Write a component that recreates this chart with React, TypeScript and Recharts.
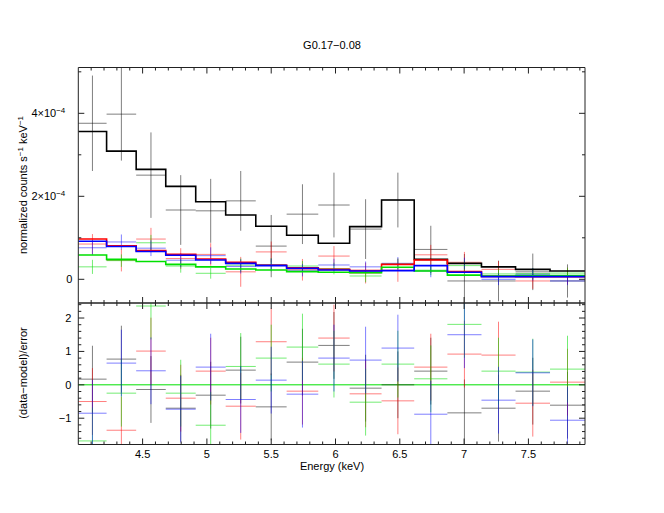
import React from "react";
import { ComposedChart, Line, Scatter, ErrorBar, XAxis, YAxis, ReferenceLine } from "recharts";

// energy bin edges (keV), 16 channels
const binEdges = [4.0, 4.22, 4.45, 4.68, 4.913, 5.146, 5.38, 5.62, 5.866, 6.11, 6.358, 6.612, 6.87, 7.135, 7.4, 7.668, 7.94];

// normalized counts, in units of 1e-4 counts s^-1 keV^-1
const blackCounts = [3.76, 3.98, 2.51, 1.67, 1.65, 1.89, 0.8, 1.57, 1.79, 1.21, 1.91, 0.72, -0.04, -0.04, 0.18, -0.04];
const blackErr = [1.15, 1.12, 1.03, 0.84, 0.77, 0.72, 0.75, 0.72, 0.78, 0.72, 0.66, 0.57, 0.65, 0.49, 0.44, 0.4];
const blackModel = [3.56, 3.09, 2.65, 2.24, 1.87, 1.55, 1.28, 1.06, 0.87, 1.27, 1.91, 0.48, 0.385, 0.3, 0.24, 0.2];

const redCounts = [0.85, 0.46, 0.97, 0.5, 0.6, 0.18, 0.66, 0.23, 0.56, 0.15, 0.22, 0.59, 0.41, 0.24, -0.04, 0.08];
const redErr = [0.24, 0.27, 0.27, 0.25, 0.27, 0.36, 0.25, 0.26, 0.24, 0.25, 0.28, 0.24, 0.25, 0.2, 0.19, 0.2];
const redModel = [0.97, 0.81, 0.69, 0.6, 0.49, 0.41, 0.34, 0.28, 0.24, 0.21, 0.36, 0.465, 0.185, 0.07, 0.065, 0.065];

const greenCounts = [0.3, 0.45, 0.88, 0.32, 0.145, 0.34, 0.35, 0.32, 0.26, 0.08, 0.37, 0.22, 0.33, 0.13, 0.14, 0.15];
const greenErr = [0.17, 0.15, 0.19, 0.16, 0.13, 0.16, 0.16, 0.12, 0.14, 0.15, 0.13, 0.12, 0.13, 0.12, 0.13, 0.13];
const greenModel = [0.586, 0.48, 0.43, 0.36, 0.3, 0.25, 0.225, 0.185, 0.17, 0.16, 0.29, 0.2, 0.1, 0.08, 0.09, 0.09];

const blueCounts = [0.76, 0.9, 0.75, 0.46, 0.57, 0.31, 0.35, 0.22, 0.345, 0.3, 0.385, 0.2, 0.38, 0.0, 0.12, -0.04];
const blueErr = [0.18, 0.18, 0.19, 0.17, 0.2, 0.17, 0.15, 0.15, 0.15, 0.13, 0.15, 0.15, 0.14, 0.14, 0.15, 0.1];
const blueModel = [0.916, 0.79, 0.67, 0.58, 0.465, 0.385, 0.33, 0.265, 0.225, 0.2, 0.21, 0.33, 0.17, 0.065, 0.065, 0.065];

// (data-model)/error
const blackResid = [0.17, 0.77, -0.14, -0.7, -0.31, 0.44, -0.66, 0.68, 1.18, -0.1, 0.0, 0.41, -0.84, -0.7, -0.19, -0.61];
const redResid = [-0.5, -1.36, 1.01, -0.4, 0.41, -0.64, 1.29, -0.19, 1.4, -0.27, -0.48, 0.53, 0.92, 0.89, -0.55, 0.08];
const greenResid = [-1.68, -0.25, 2.36, -0.25, -1.21, 0.55, 0.8, 1.13, 0.62, -0.52, 0.62, 0.18, 1.81, 0.41, 0.38, 0.47];
const blueResid = [-0.85, 0.65, 0.42, -0.73, 0.53, -0.44, 0.14, -0.28, 0.8, 0.74, 1.1, -0.88, 1.5, -0.46, 0.36, -1.06];

// axis ticks
const xMajorTicks = [4.5, 5, 5.5, 6, 6.5, 7, 7.5];
const xAllTicks = Array.from({ length: 39 }, (_, i) => +(4.1 + i * 0.1).toFixed(1));
const countMajorTicks = [0, 2, 4];
const countAllTicks = [0, 1, 2, 3, 4, 5];
const residMajorTicks = [-1, 0, 1, 2];
const residAllTicks = Array.from({ length: 21 }, (_, i) => +(-1.6 + i * 0.2).toFixed(1));

const xDomain = [4.0, 7.94];
const countDomain = [-0.571, 5.104];
const residDomain = [-1.787, 2.45];

const FONT = "'Liberation Sans', Arial, Helvetica, sans-serif";

const centers = binEdges.slice(0, -1).map((e, i) => (e + binEdges[i + 1]) / 2);
const halfWidths = binEdges.slice(0, -1).map((e, i) => (binEdges[i + 1] - e) / 2);

// error bars are cut at the panel's y range, like the frame does
const crossData = (vals: number[], errs: number[], dom: number[]) =>
  vals.map((v, i) => ({
    x: centers[i],
    y: v,
    xe: halfWidths[i],
    ye: [v - Math.max(v - errs[i], dom[0]), Math.min(v + errs[i], dom[1]) - v],
  }));
const stepData = (model: number[]) =>
  binEdges.map((e, i) => ({ x: e, y: model[Math.min(i, model.length - 1)] }));

const datasets = [
  { name: "black", line: "#000000", cross: "rgba(0,0,0,0.5)", counts: blackCounts, err: blackErr, model: blackModel, resid: blackResid },
  { name: "red", line: "#ff0000", cross: "rgba(255,0,0,0.5)", counts: redCounts, err: redErr, model: redModel, resid: redResid },
  { name: "green", line: "#00e000", cross: "rgba(0,220,0,0.55)", counts: greenCounts, err: greenErr, model: greenModel, resid: greenResid },
  { name: "blue", line: "#0000ff", cross: "rgba(0,0,255,0.5)", counts: blueCounts, err: blueErr, model: blueModel, resid: blueResid },
];

type Side = "top" | "bottom" | "left" | "right";

const isMajor = (v: number, majors: number[]) => majors.some((m) => Math.abs(m - v) < 1e-6);

const xLabel = (v: number) => String(v);
const countLabel = (v: number) =>
  v === 0 ? "0" : (
    <>
      {v}×10<tspan dy={-4} fontSize={8}>−4</tspan>
    </>
  );
const countGap = (v: number) => (v === 0 ? 6 : 13);
const residLabel = (v: number) => (v < 0 ? "−" + Math.abs(v) : String(v));
const residGap = () => 7;

function renderTick(
  props: any,
  side: Side,
  majors: number[],
  fmt?: (v: number) => React.ReactNode,
  gap?: (v: number) => number
) {
  const { x, y, payload } = props;
  const v = payload.value;
  const major = isMajor(v, majors);
  const len = major ? 6 : 3;
  let x2 = x;
  let y2 = y;
  if (side === "bottom") y2 = y - len;
  if (side === "top") y2 = y + len;
  if (side === "left") x2 = x + len;
  if (side === "right") x2 = x - len;
  return (
    <g>
      <line x1={x} y1={y} x2={x2} y2={y2} stroke="#222" strokeWidth={1} />
      {major && fmt && side === "bottom" && (
        <text x={x} y={y + 13} textAnchor="middle" fontSize={11} fontFamily={FONT} fill="#000">
          {fmt(v)}
        </text>
      )}
      {major && fmt && side === "left" && (
        <text x={x - (gap ? gap(v) : 6)} y={y + 4} textAnchor="end" fontSize={11} fontFamily={FONT} fill="#000">
          {fmt(v)}
        </text>
      )}
    </g>
  );
}

const frameAxis = { stroke: "#222", strokeWidth: 1 };

const TopPanel = () => (
  <ComposedChart width={664} height={310} margin={{ top: 66.5, right: 78, bottom: 6, left: 77.3 }}>
    <XAxis
      dataKey="x"
      type="number"
      domain={xDomain}
      allowDataOverflow
      ticks={xAllTicks}
      interval={0}
      height={1}
      tickSize={0}
      tickMargin={0}
      axisLine={frameAxis}
      tickLine={false}
      tick={(p: any) => renderTick(p, "bottom", xMajorTicks)}
    />
    <XAxis
      xAxisId="t"
      dataKey="x"
      type="number"
      orientation="top"
      domain={xDomain}
      allowDataOverflow
      ticks={xAllTicks}
      interval={0}
      height={1}
      tickSize={0}
      tickMargin={0}
      axisLine={frameAxis}
      tickLine={false}
      tick={(p: any) => renderTick(p, "top", xMajorTicks)}
    />
    <YAxis
      dataKey="y"
      type="number"
      domain={countDomain}
      allowDataOverflow
      ticks={countAllTicks}
      interval={0}
      width={1}
      tickSize={0}
      tickMargin={0}
      axisLine={frameAxis}
      tickLine={false}
      tick={(p: any) => renderTick(p, "left", countMajorTicks, countLabel, countGap)}
    />
    <YAxis
      yAxisId="r"
      type="number"
      orientation="right"
      domain={countDomain}
      allowDataOverflow
      ticks={countAllTicks}
      interval={0}
      width={1}
      tickSize={0}
      tickMargin={0}
      axisLine={frameAxis}
      tickLine={false}
      tick={(p: any) => renderTick(p, "right", countMajorTicks)}
    />
    {datasets.map((d) => (
      <Scatter
        key={"c-" + d.name}
        data={crossData(d.counts, d.err, countDomain)}
        shape={() => <g />}
        isAnimationActive={false}
      >
        <ErrorBar dataKey="xe" direction="x" width={0} stroke={d.cross} strokeWidth={1} isAnimationActive={false} />
        <ErrorBar dataKey="ye" direction="y" width={0} stroke={d.cross} strokeWidth={1} isAnimationActive={false} />
      </Scatter>
    ))}
    {datasets.map((d) => (
      <Line
        key={"m-" + d.name}
        data={stepData(d.model)}
        dataKey="y"
        type="stepAfter"
        stroke={d.line}
        strokeWidth={1.6}
        dot={false}
        isAnimationActive={false}
      />
    ))}
  </ComposedChart>
);

const BottomPanel = () => (
  <ComposedChart width={664} height={223} margin={{ top: 12, right: 78, bottom: 67.5, left: 77.3 }}>
    <XAxis
      dataKey="x"
      type="number"
      domain={xDomain}
      allowDataOverflow
      ticks={xAllTicks}
      interval={0}
      height={1}
      tickSize={0}
      tickMargin={0}
      axisLine={frameAxis}
      tickLine={false}
      tick={(p: any) => renderTick(p, "bottom", xMajorTicks, xLabel)}
    />
    <XAxis
      xAxisId="t"
      dataKey="x"
      type="number"
      orientation="top"
      domain={xDomain}
      allowDataOverflow
      ticks={xAllTicks}
      interval={0}
      height={1}
      tickSize={0}
      tickMargin={0}
      axisLine={frameAxis}
      tickLine={false}
      tick={(p: any) => renderTick(p, "top", xMajorTicks)}
    />
    <YAxis
      dataKey="y"
      type="number"
      domain={residDomain}
      allowDataOverflow
      ticks={residAllTicks}
      interval={0}
      width={1}
      tickSize={0}
      tickMargin={0}
      axisLine={frameAxis}
      tickLine={false}
      tick={(p: any) => renderTick(p, "left", residMajorTicks, residLabel, residGap)}
    />
    <YAxis
      yAxisId="r"
      type="number"
      orientation="right"
      domain={residDomain}
      allowDataOverflow
      ticks={residAllTicks}
      interval={0}
      width={1}
      tickSize={0}
      tickMargin={0}
      axisLine={frameAxis}
      tickLine={false}
      tick={(p: any) => renderTick(p, "right", residMajorTicks)}
    />
    <ReferenceLine y={0} stroke="#00e000" strokeWidth={1} />
    {datasets.map((d) => (
      <Scatter
        key={"r-" + d.name}
        data={crossData(d.resid, d.resid.map(() => 1), residDomain)}
        shape={() => <g />}
        isAnimationActive={false}
      >
        <ErrorBar dataKey="xe" direction="x" width={0} stroke={d.cross} strokeWidth={1} isAnimationActive={false} />
        <ErrorBar dataKey="ye" direction="y" width={0} stroke={d.cross} strokeWidth={1} isAnimationActive={false} />
      </Scatter>
    ))}
  </ComposedChart>
);

const App = () => (
  <div style={{ position: "absolute", left: 0, top: 0, width: 664, height: 513, background: "#fff" }}>
    <div style={{ position: "absolute", left: 0, top: 0 }}>
      <TopPanel />
    </div>
    <div style={{ position: "absolute", left: 0, top: 290 }}>
      <BottomPanel />
    </div>
    <svg width={664} height={513} style={{ position: "absolute", left: 0, top: 0, pointerEvents: "none" }}>
      <text x={332} y={49} textAnchor="middle" fontSize={11} fontFamily={FONT} fill="#000">
        G0.17−0.08
      </text>
      <text x={332} y={470} textAnchor="middle" fontSize={11} fontFamily={FONT} fill="#000">
        Energy (keV)
      </text>
      <text transform="translate(27,185) rotate(-90)" textAnchor="middle" fontSize={11} fontFamily={FONT} fill="#000">
        normalized counts s<tspan dy={-4} fontSize={8}>−1</tspan>
        <tspan dy={4}> keV</tspan>
        <tspan dy={-4} fontSize={8}>−1</tspan>
      </text>
      <text transform="translate(27,373) rotate(-90)" textAnchor="middle" fontSize={11} fontFamily={FONT} fill="#000">
        (data−model)/error
      </text>
    </svg>
  </div>
);

export default App;
